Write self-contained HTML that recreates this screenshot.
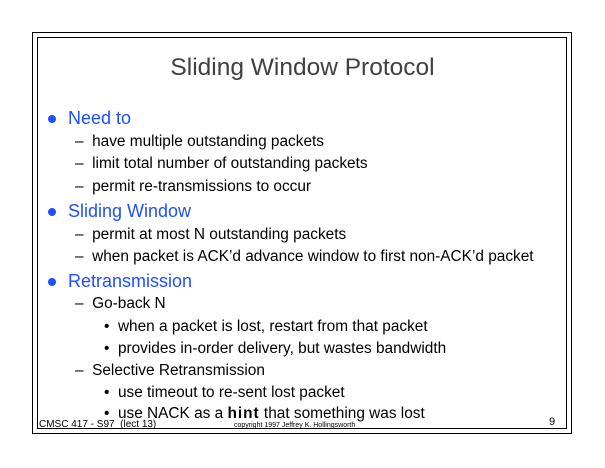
<!DOCTYPE html>
<html><head><style>
body{margin:0;background:#fff;width:605px;height:468px;position:relative;overflow:hidden;font-family:"Liberation Sans",sans-serif}
.b{position:absolute;border:1.5px solid #000;box-sizing:border-box}
.t{position:absolute;white-space:nowrap;line-height:1}
.h{color:#1f4fff;font-size:18px}
.s{font-size:15.4px;color:#000}
.dot{position:absolute;width:8px;height:8px;border-radius:50%;background:#1f4fff}
</style></head><body>
<div class="b" style="left:32px;top:32px;width:540px;height:402px"></div>
<div class="b" style="left:37px;top:37px;width:530px;height:392px"></div>
<div class="t" style="left:0;width:605px;text-align:center;top:56px;font-size:24.5px;color:#404040">Sliding Window Protocol</div>

<div class="dot" style="left:48px;top:115px"></div>
<div class="t h" style="left:68px;top:109px">Need to</div>
<div class="t s" style="left:75px;top:134px">–&nbsp;&nbsp;have multiple outstanding packets</div>
<div class="t s" style="left:75px;top:156px">–&nbsp;&nbsp;limit total number of outstanding packets</div>
<div class="t s" style="left:75px;top:179px">–&nbsp;&nbsp;permit re-transmissions to occur</div>

<div class="dot" style="left:48px;top:208px"></div>
<div class="t h" style="left:68px;top:202px">Sliding Window</div>
<div class="t s" style="left:75px;top:227px">–&nbsp;&nbsp;permit at most N outstanding packets</div>
<div class="t s" style="left:75px;top:249px">–&nbsp;&nbsp;when packet is ACK’d advance window to first non-ACK’d packet</div>

<div class="dot" style="left:48px;top:278px"></div>
<div class="t h" style="left:68px;top:272px">Retransmission</div>
<div class="t s" style="left:75px;top:296px">–&nbsp;&nbsp;Go-back N</div>
<div class="t s" style="left:104px;top:319px">•&nbsp;&nbsp;when a packet is lost, restart from that packet</div>
<div class="t s" style="left:104px;top:341px">•&nbsp;&nbsp;provides in-order delivery, but wastes bandwidth</div>
<div class="t s" style="left:75px;top:363px">–&nbsp;&nbsp;Selective Retransmission</div>
<div class="t s" style="left:104px;top:385px">•&nbsp;&nbsp;use timeout to re-sent lost packet</div>
<div class="t s" style="left:104px;top:406px">•&nbsp;&nbsp;use NACK as a <b style="letter-spacing:1px">hint</b> that something was lost</div>

<div class="t" style="left:39px;top:420px;font-size:10px">CMSC 417 - S97&nbsp;&nbsp;(lect 13)</div>
<div class="t" style="left:234px;top:422px;font-size:7px">copyright 1997 Jeffrey K. Hollingsworth</div>
<div class="t" style="left:549px;top:417px;font-size:11px">9</div>
</body></html>
